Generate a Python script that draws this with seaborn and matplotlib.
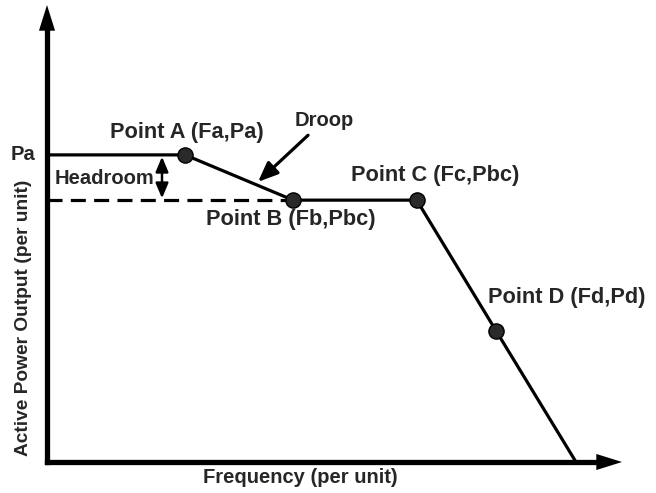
import matplotlib
matplotlib.use("Agg")
import matplotlib.pyplot as plt
import seaborn as sns
import pandas as pd

# frequency / power break points (arbitrary per-unit scale)
freq = [0.0, 2.4, 4.28, 6.43, 7.81, 9.2]
power = [6.72, 6.72, 5.73, 5.73, 2.87, 0.0]
point_names = ["Point A (Fa,Pa)", "Point B (Fb,Pbc)", "Point C (Fc,Pbc)", "Point D (Fd,Pd)"]
point_freq = [2.4, 4.28, 6.43, 7.81]
point_power = [6.72, 5.73, 5.73, 2.87]

curve = pd.DataFrame({"freq": freq, "power": power})
points = pd.DataFrame({"freq": point_freq, "power": point_power, "name": point_names})

sns.set_style("white")
plt.rcParams["font.family"] = ["Liberation Sans", "DejaVu Sans"]
plt.rcParams["font.weight"] = "bold"

fig = plt.figure(figsize=(6.56, 4.93), dpi=100)
ax = fig.add_axes([47 / 656, 31 / 493, 575 / 656, 457 / 493])
ax.set_xlim(0, 10)
ax.set_ylim(0, 10)
ax.axis("off")

# axes with arrow heads
ax.plot([0, 9.6], [0, 0], color="black", lw=3.8, solid_capstyle="projecting", clip_on=False)
ax.plot([0, 0], [0, 9.5], color="black", lw=3.8, solid_capstyle="projecting", clip_on=False)
head = dict(arrowstyle="-|>,head_length=18.5,head_width=5.8", mutation_scale=1, color="black", lw=0,
            shrinkA=0, shrinkB=0)
ax.annotate("", xy=(10, 0), xytext=(9.4, 0), arrowprops=head, annotation_clip=False)
ax.annotate("", xy=(0, 10), xytext=(0, 9.4), arrowprops=head, annotation_clip=False)

# dashed Pbc line
ax.plot([0, point_freq[1]], [point_power[1], point_power[1]], color="black", lw=2.3,
        dashes=(4.7, 2.6))

sns.lineplot(data=curve, x="freq", y="power", sort=False, color="black", lw=2.3, ax=ax)
sns.scatterplot(data=points, x="freq", y="power", s=120, color="#2a2a2a", edgecolor="black",
                linewidth=1, zorder=5, ax=ax)

fs = 14.5
pfs = 15.7
ax.text(-0.21, power[0], "Pa", ha="right", va="center", fontsize=fs, fontweight="bold")
ax.text(1.1, 7.2, point_names[0], ha="left", va="center", fontsize=pfs, fontweight="bold")
ax.text(2.77, 5.3, point_names[1], ha="left", va="center", fontsize=pfs, fontweight="bold")
ax.text(5.29, 6.28, point_names[2], ha="left", va="center", fontsize=pfs, fontweight="bold")
ax.text(7.67, 3.61, point_names[3], ha="left", va="center", fontsize=pfs, fontweight="bold")
ax.text(0.14, 6.21, "Headroom", ha="left", va="center", fontsize=fs, fontweight="bold")
ax.text(4.83, 7.48, "Droop", ha="center", va="center", fontsize=fs, fontweight="bold")

# headroom double arrow
ax.annotate("", xy=(2.0, power[0] - 0.04), xytext=(2.0, power[2] + 0.04),
            arrowprops=dict(arrowstyle="<|-|>,head_length=9,head_width=3.8", mutation_scale=1,
                            color="black", lw=1.8, shrinkA=0, shrinkB=0))
# droop pointer
ax.annotate("", xy=(3.67, 6.13), xytext=(4.54, 7.15),
            arrowprops=dict(arrowstyle="-|>,head_length=12,head_width=5", mutation_scale=1,
                            color="black", lw=2.3, shrinkA=0, shrinkB=0))

ax.text(4.4, -0.35, "Frequency (per unit)", ha="center", va="center", fontsize=fs,
        fontweight="bold", clip_on=False)
ax.text(-0.4, 3.15, "Active Power Output (per unit)", ha="center", va="center", rotation=90,
        fontsize=13.8, fontweight="bold", clip_on=False)

fig.savefig("out.png", dpi=100)
